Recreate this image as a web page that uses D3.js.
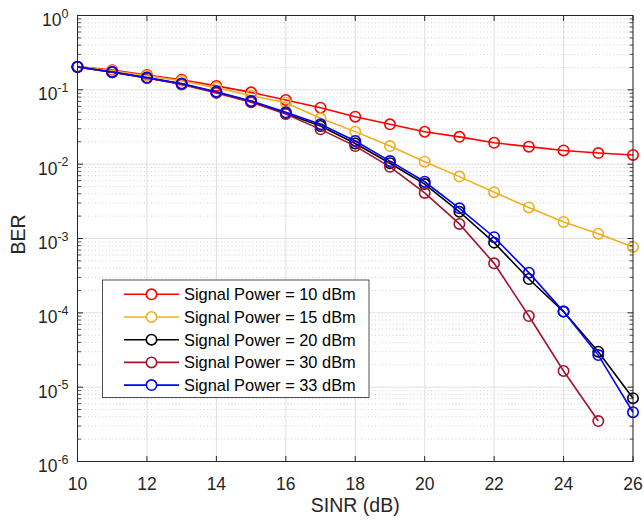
<!DOCTYPE html>
<html>
<head>
<meta charset="utf-8">
<script src="https://cdn.jsdelivr.net/npm/d3@7"></script>
<style>
	body { margin: 0; background: #fff; }
	svg { display: block; font-family: 'Liberation Sans', Arial, sans-serif; }
</style>
</head>
<body>
<svg id="chart" width="644" height="521"></svg>
<script>
const sinr = [10, 11, 12, 13, 14, 15, 16, 17, 18, 19, 20, 21, 22, 23, 24, 25, 26]

const ber10 = [0.205, 0.184, 0.158, 0.137, 0.113, 0.0925, 0.073, 0.0575, 0.0435, 0.0344, 0.0273, 0.0233, 0.0194, 0.0172, 0.0153, 0.0141, 0.0133]
const ber15 = [0.205, 0.181, 0.155, 0.132, 0.107, 0.0834, 0.067, 0.0414, 0.0274, 0.0175, 0.0108, 0.0068, 0.0042, 0.00262, 0.00167, 0.00116, 0.00077]
const ber20 = [0.203, 0.173, 0.145, 0.12, 0.093, 0.0695, 0.048, 0.0326, 0.019, 0.0103, 0.0054, 0.00229, 0.00088, 0.000285, 0.000104, 0.00003, 0.0000071]
const ber30 = [0.203, 0.172, 0.144, 0.118, 0.091, 0.068, 0.0473, 0.0294, 0.0175, 0.0092, 0.0041, 0.00157, 0.000463, 0.0000906, 0.0000165, 0.0000035]
const ber33 = [0.203, 0.174, 0.146, 0.122, 0.0944, 0.0708, 0.0498, 0.0344, 0.0205, 0.011, 0.0058, 0.00255, 0.00104, 0.000347, 0.000104, 0.000027, 0.0000046]

const seriesNames = ['Signal Power = 10 dBm', 'Signal Power = 15 dBm', 'Signal Power = 20 dBm', 'Signal Power = 30 dBm', 'Signal Power = 33 dBm']
const seriesColours = ['#ff0000', '#edb120', '#000000', '#a2142f', '#0000ff']
const seriesValues = [ber10, ber15, ber20, ber30, ber33]

const xTicks = [10, 12, 14, 16, 18, 20, 22, 24, 26]
const yExps = [0, -1, -2, -3, -4, -5, -6]

const plotL = 77.5, plotR = 633, plotT = 15.5, plotB = 461.5
const axisColour = '#262626'
const tickFont = 17.5

const svg = d3.select('#chart')

const x = d3.scaleLinear().domain([10, 26]).range([plotL, plotR])
const y = d3.scaleLog().domain([1e-6, 1]).range([plotB, plotT])

// grid: minor dotted first, then major solid
const minorVals = []
yExps.slice(1).forEach(e => {
	for(let m = 2; m <= 9; m++) minorVals.push(m*Math.pow(10, e))
})

const grid = svg.append('g').attr('class', 'grid')

grid.selectAll('.minor')
	.data(minorVals)
	.enter()
	.append('line')
	.attr('x1', plotL).attr('x2', plotR)
	.attr('y1', d => y(d)).attr('y2', d => y(d))
	.attr('stroke', '#c4c4c4')
	.attr('stroke-width', 0.8)
	.attr('stroke-dasharray', '1,2.5')

grid.selectAll('.hmajor')
	.data(yExps.map(e => Math.pow(10, e)))
	.enter()
	.append('line')
	.attr('x1', plotL).attr('x2', plotR)
	.attr('y1', d => y(d)).attr('y2', d => y(d))
	.attr('stroke', '#e0e0e0')
	.attr('stroke-width', 1)

grid.selectAll('.vmajor')
	.data(xTicks)
	.enter()
	.append('line')
	.attr('x1', d => x(d)).attr('x2', d => x(d))
	.attr('y1', plotT).attr('y2', plotB)
	.attr('stroke', '#e0e0e0')
	.attr('stroke-width', 1)

// series
const line = d3.line()
	.x((d, i) => x(sinr[i]))
	.y(d => y(d))

const plotLayer = svg.append('g').attr('class', 'series')

seriesValues.forEach((vals, k) => {
	const g = plotLayer.append('g')
	g.append('path')
		.datum(vals)
		.attr('d', line)
		.attr('fill', 'none')
		.attr('stroke', seriesColours[k])
		.attr('stroke-width', 1.6)
	g.selectAll('circle')
		.data(vals)
		.enter()
		.append('circle')
		.attr('cx', (d, i) => x(sinr[i]))
		.attr('cy', d => y(d))
		.attr('r', 5.2)
		.attr('fill', 'none')
		.attr('stroke', seriesColours[k])
		.attr('stroke-width', 1.6)
})

// axes box + ticks
const axes = svg.append('g').attr('class', 'axes')

axes.append('rect')
	.attr('x', plotL).attr('y', plotT)
	.attr('width', plotR-plotL).attr('height', plotB-plotT)
	.attr('fill', 'none')
	.attr('stroke', axisColour)
	.attr('stroke-width', 1)

const tickLen = 5.5
const minorLen = 3.5

xTicks.forEach(t => {
	axes.append('line').attr('x1', x(t)).attr('x2', x(t)).attr('y1', plotB).attr('y2', plotB - tickLen).attr('stroke', axisColour)
	axes.append('line').attr('x1', x(t)).attr('x2', x(t)).attr('y1', plotT).attr('y2', plotT + tickLen).attr('stroke', axisColour)
})

yExps.forEach(e => {
	const yy = y(Math.pow(10, e))
	axes.append('line').attr('x1', plotL).attr('x2', plotL + tickLen).attr('y1', yy).attr('y2', yy).attr('stroke', axisColour)
	axes.append('line').attr('x1', plotR).attr('x2', plotR - tickLen).attr('y1', yy).attr('y2', yy).attr('stroke', axisColour)
})

minorVals.forEach(v => {
	const yy = y(v)
	axes.append('line').attr('x1', plotL).attr('x2', plotL + minorLen).attr('y1', yy).attr('y2', yy).attr('stroke', axisColour).attr('stroke-width', 0.8)
	axes.append('line').attr('x1', plotR).attr('x2', plotR - minorLen).attr('y1', yy).attr('y2', yy).attr('stroke', axisColour).attr('stroke-width', 0.8)
})

// tick labels
axes.selectAll('.xlab')
	.data(xTicks)
	.enter()
	.append('text')
	.attr('x', d => x(d))
	.attr('y', plotB + 28)
	.attr('text-anchor', 'middle')
	.attr('fill', axisColour)
	.style('font-size', tickFont + 'px')
	.text(d => d)

const ylab = axes.selectAll('.ylab')
	.data(yExps)
	.enter()
	.append('text')
	.attr('x', plotL - 9)
	.attr('y', d => y(Math.pow(10, d)) + 10.5)
	.attr('text-anchor', 'end')
	.attr('fill', axisColour)
	.style('font-size', tickFont + 'px')

ylab.append('tspan').text('10')
ylab.append('tspan')
	.attr('dy', -8.5)
	.style('font-size', '12.5px')
	.text(d => d === 0 ? '0' : '-' + Math.abs(d))

// axis titles
svg.append('text')
	.attr('x', (plotL + plotR)/2)
	.attr('y', 512)
	.attr('text-anchor', 'middle')
	.attr('fill', axisColour)
	.style('font-size', '19.5px')
	.text('SINR (dB)')

svg.append('text')
	.attr('transform', `translate(25, ${(plotT + plotB)/2 - 4}) rotate(-90)`)
	.attr('text-anchor', 'middle')
	.attr('fill', axisColour)
	.style('font-size', '19.5px')
	.text('BER')

// legend
const legX = 102.5, legY = 280, legW = 266.5, legH = 117.5
const rowH = 22.7
const legend = svg.append('g').attr('class', 'legend')

legend.append('rect')
	.attr('x', legX).attr('y', legY)
	.attr('width', legW).attr('height', legH)
	.attr('fill', '#fff')
	.attr('stroke', axisColour)
	.attr('stroke-width', 0.8)

const rows = legend.selectAll('.row')
	.data(seriesNames)
	.enter()
	.append('g')
	.attr('transform', (d, i) => `translate(${legX}, ${legY + 14.3 + i*rowH})`)

rows.append('line')
	.attr('x1', 21.5).attr('x2', 76.5)
	.attr('y1', 0).attr('y2', 0)
	.attr('stroke', (d, i) => seriesColours[i])
	.attr('stroke-width', 1.6)

rows.append('circle')
	.attr('cx', 49).attr('cy', 0).attr('r', 5.2)
	.attr('fill', '#fff')
	.attr('stroke', (d, i) => seriesColours[i])
	.attr('stroke-width', 1.6)

rows.append('text')
	.attr('x', 81.5)
	.attr('y', 0)
	.attr('dy', '0.36em')
	.attr('fill', '#000')
	.style('font-size', '16.4px')
	.text(d => d)
</script>
</body>
</html>
